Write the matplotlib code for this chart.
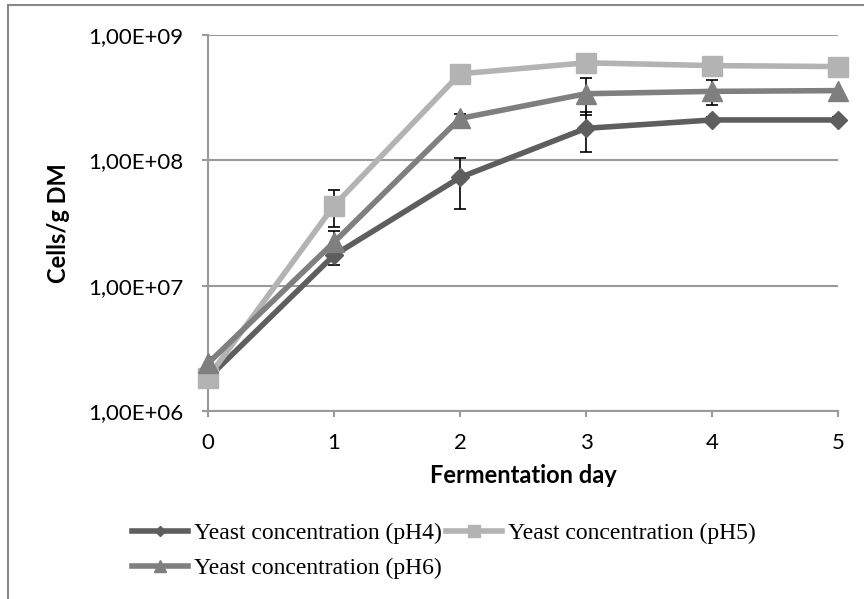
import matplotlib
matplotlib.use("Agg")
import matplotlib.pyplot as plt
from matplotlib.ticker import FixedLocator, NullLocator
from matplotlib.patches import Rectangle

days = [0, 1, 2, 3, 4, 5]
ph4 = [1.83e6, 1.75e7, 7.3e7, 1.8e8, 2.1e8, 2.1e8]
ph5 = [1.85e6, 4.35e7, 4.9e8, 6.0e8, 5.7e8, 5.6e8]
ph6 = [2.4e6, 2.22e7, 2.16e8, 3.4e8, 3.55e8, 3.6e8]
ph4_err = [0.3e6, 0.3e7, 3.2e7, 6.4e7, 0.1e8, 0.1e8]
ph5_err = [0.2e6, 1.4e7, 0.2e8, 0.2e8, 0.2e8, 0.2e8]
ph6_err = [0.3e6, 0.5e7, 0.2e8, 1.1e8, 0.8e8, 0.1e8]
labels = ["Yeast concentration (pH4)", "Yeast concentration (pH5)", "Yeast concentration (pH6)"]
yticks = [1e6, 1e7, 1e8, 1e9]
ytick_labels = ["1,00E+06", "1,00E+07", "1,00E+08", "1,00E+09"]

fig = plt.figure(figsize=(8.64, 5.99), dpi=100)
fig.patches.append(Rectangle((8/864, -0.1), 1.2, 1.1 - 5/599, transform=fig.transFigure,
                             fill=False, edgecolor="#888888", linewidth=1.5))
ax = fig.add_axes([208/864, 1-411/599, 630/864, 376/599])
ax.set_yscale("log")
ax.set_ylim(1e6, 1e9)
ax.set_xlim(0, 5)

series = [(ph4, ph4_err, "#5e5e5e", "D", 9), (ph5, ph5_err, "#b3b3b3", "s", 14), (ph6, ph6_err, "#7f7f7f", "^", 15)]
handles = []
for (vals, err, col, mk, ms), lab in zip(series, labels):
    ax.errorbar(days, vals, yerr=err, fmt="none", ecolor="black", elinewidth=1.2,
                capsize=4, capthick=1.2, zorder=2)
for (vals, err, col, mk, ms), lab in zip(series, labels):
    h, = ax.plot(days, vals, color=col, linewidth=4, marker=mk, markersize=ms,
                 markeredgecolor=col, label=lab, zorder=3, clip_on=False)
    handles.append(h)

ax.yaxis.set_major_locator(FixedLocator(yticks))
ax.yaxis.set_minor_locator(NullLocator())
ax.set_yticklabels(ytick_labels)
ax.set_xticks(days)
ax.grid(axis="y", color="#9a9a9a", linewidth=1.5)
ax.set_axisbelow(True)
for s in ["top", "right"]:
    ax.spines[s].set_visible(False)
for s in ["left", "bottom"]:
    ax.spines[s].set_color("#9a9a9a")
    ax.spines[s].set_linewidth(1.5)
ax.tick_params(axis="both", which="major", color="#9a9a9a", length=4, width=1.5,
               labelsize=16)
ax.tick_params(axis="y", pad=14)
ax.tick_params(axis="x", direction="out", pad=12)
for t in ax.get_xticklabels() + ax.get_yticklabels():
    t.set_fontfamily("Lato")

ax.set_xlabel("Fermentation day", fontfamily="Lato", fontweight="bold", fontsize=17)
ax.set_ylabel("Cells/g DM", fontfamily="Lato", fontweight="bold", fontsize=17)
ax.xaxis.set_label_coords(0.5, -0.141)
ax.yaxis.set_label_coords(-0.219, 0.5)

order = [0, 2, 1]
leg = fig.legend(handles=[handles[i] for i in order], labels=[labels[i] for i in order],
                 ncol=2, loc="upper left", borderpad=0,
                 bbox_to_anchor=(120/864, 1-511/599), frameon=False,
                 prop={"family": "Liberation Serif", "size": 17},
                 handlelength=2.37, handletextpad=0.25, columnspacing=0.2, labelspacing=0.55,
                 markerscale=0.6)
fig.savefig("out.png", dpi=100)
